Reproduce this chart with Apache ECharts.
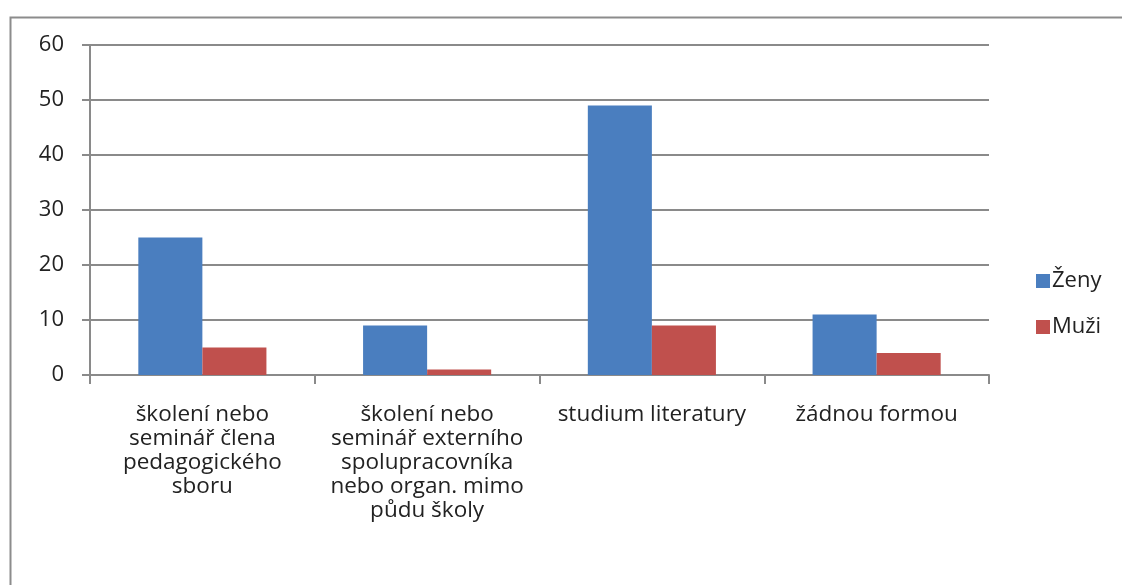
<!DOCTYPE html>
<html>
<head>
<meta charset="utf-8">
<script src="https://cdn.jsdelivr.net/npm/echarts@6/dist/echarts.min.js"></script>
<style>
html,body{margin:0;padding:0;background:#fff;}
#c{width:1122px;height:585px;}
</style>
</head>
<body>
<div id="c"></div>
<script>
var categories = ["školení nebo\nseminář člena\npedagogického\nsboru", "školení nebo\nseminář externího\nspolupracovníka\nnebo organ. mimo\npůdu školy", "studium literatury", "žádnou formou"];
var zeny = [25, 9, 49, 11];
var muzi = [5, 1, 9, 4];
var seriesNames = ["Ženy", "Muži"];

var font = "'Open Sans', sans-serif";
var chart = echarts.init(document.getElementById('c'));
chart.setOption({
  animation: false,
  backgroundColor: '#fff',
  graphic: [{
    type: 'rect', left: 8, top: 15,
    shape: {width: 1200, height: 700},
    style: {fill: 'none', stroke: '#8c8c8c', lineWidth: 2}
  }],
  grid: {left: 90, right: 133, top: 45, bottom: 210},
  legend: {
    orient: 'vertical', left: 1031, top: 265,
    itemWidth: 14, itemHeight: 14, itemGap: 24,
    icon: 'rect',
    textStyle: {fontFamily: font, fontSize: 22, color: '#222', padding: [0,0,0,-3]},
    data: seriesNames
  },
  xAxis: {
    type: 'category', data: categories,
    axisLine: {lineStyle: {color: '#8a8a8a', width: 2}},
    axisTick: {show: true, length: 9, lineStyle: {color: '#8a8a8a', width: 2}},
    axisLabel: {fontFamily: font, fontSize: 22.5, color: '#222', lineHeight: 24, margin: 28, interval: 0}
  },
  yAxis: {
    type: 'value', min: 0, max: 60, interval: 10,
    axisLine: {show: true, lineStyle: {color: '#8a8a8a', width: 2}},
    axisTick: {show: true, length: 8, lineStyle: {color: '#8a8a8a', width: 2}},
    splitLine: {lineStyle: {color: '#8a8a8a', width: 2}},
    axisLabel: {fontFamily: font, fontSize: 22, color: '#222', margin: 26}
  },
  series: [
    {name: seriesNames[0], type: 'bar', data: zeny, barGap: '0%', barCategoryGap: '43%', itemStyle: {color: '#4a7ebf'}},
    {name: seriesNames[1], type: 'bar', data: muzi, itemStyle: {color: '#c0504d'}}
  ]
});
</script>
</body>
</html>
